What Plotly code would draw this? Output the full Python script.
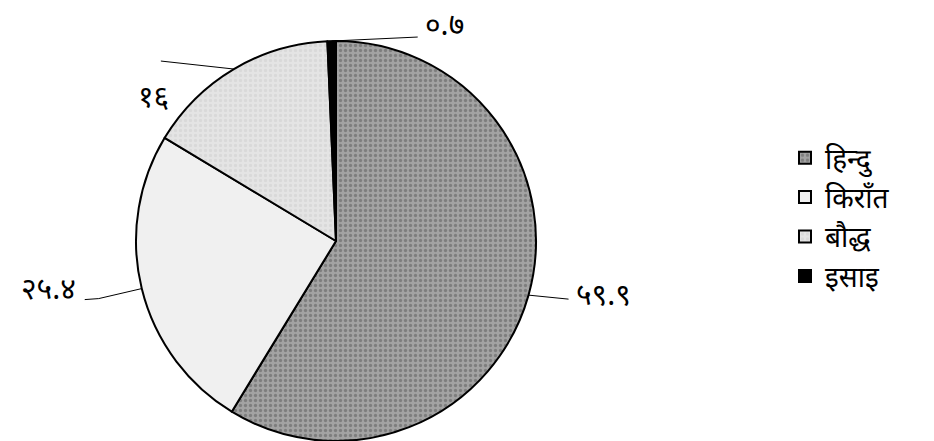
import math
import plotly.graph_objects as go

# ---- data ----
religions = ["हिन्दु", "किराँत", "बौद्ध", "इसाइ"]
percentages = [59.9, 25.4, 16.0, 0.7]
value_labels = ["५९.९", "२५.४", "१६", "०.७"]

# page body has an 8px margin; figure is sized to fill the rest of the window
W, H = 926, 433
FONT = "Noto Sans Devanagari, Lohit Devanagari, Noto Sans, sans-serif"

colors = ["#a3a3a3", "#f0f0f0", "#e4e4e4", "#000000"]
pat_shape = [".", "", ".", ""]
pat_fg = ["#595959", "#f0f0f0", "#cdcdcd", "#000000"]

# pie geometry (domain) in figure pixels
R_px = 200
cx_px = 328
cy_px = H - R_px
dom_h = 2 * R_px / H
dom_w = 2 * R_px / W
xdom = [cx_px / W - dom_w / 2, cx_px / W + dom_w / 2]

fig = go.Figure(go.Pie(
    labels=religions,
    values=percentages,
    sort=False,
    direction="clockwise",
    rotation=0,
    textinfo="none",
    hoverinfo="label+value",
    domain=dict(x=xdom, y=[0, dom_h]),
    marker=dict(
        colors=colors,
        line=dict(color="#000000", width=2),
        pattern=dict(shape=pat_shape, fgcolor=pat_fg, bgcolor=colors,
                     size=5, solidity=0.35, fillmode="overlay"),
    ),
))

# leader lines + labels, computed from slice mid-angles
total = sum(percentages)
leader_style = [
    dict(path=[(40, 4)], text=(5, -2), anchor="left"),
    dict(path=[(-43, 10), (-57, 11)], text=(-7, -8), anchor="right"),
    dict(path=[(-73, -8)], text=(10, 38), anchor="right"),
    dict(path=[(86, -4)], text=(5, -10), anchor="left"),
]

def to_paper(px, py):
    return px / W, 1 - py / H

shapes, annotations = [], []
cum = 0.0
for val, lab, st in zip(percentages, value_labels, leader_style):
    mid = (cum + val / 2) / total * 2 * math.pi
    cum += val
    sx = cx_px + R_px * math.sin(mid)
    sy = cy_px - R_px * math.cos(mid)
    pts = [(sx, sy)] + [(sx + dx, sy + dy) for dx, dy in st["path"]]
    path = "M " + " L ".join(f"{to_paper(x, y)[0]},{to_paper(x, y)[1]}" for x, y in pts)
    shapes.append(dict(type="path", xref="paper", yref="paper", path=path,
                       line=dict(color="#000000", width=1)))
    ex, ey = pts[-1]
    tx, ty = to_paper(ex + st["text"][0], ey + st["text"][1])
    annotations.append(dict(x=tx, y=ty, xref="paper", yref="paper", text=lab,
                            showarrow=False, xanchor=st["anchor"], yanchor="middle",
                            font=dict(family=FONT, size=30, color="#000000")))

fig.update_layout(
    width=W, height=H,
    margin=dict(l=0, r=0, t=0, b=0),
    paper_bgcolor="#ffffff",
    plot_bgcolor="#ffffff",
    shapes=shapes,
    annotations=annotations,
    showlegend=True,
    legend=dict(x=777 / W, y=1 - 125 / H, xanchor="left", yanchor="top",
                font=dict(family=FONT, size=28, color="#000000"),
                itemwidth=30, tracegroupgap=0, bgcolor="rgba(0,0,0,0)"),
)

fig.write_html("out.html")
